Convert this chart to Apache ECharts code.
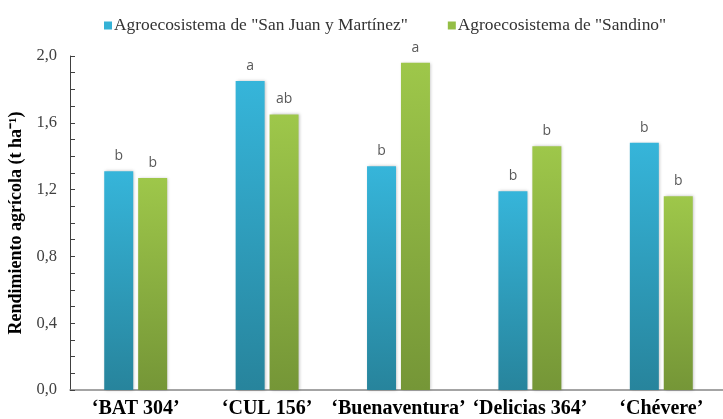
<!DOCTYPE html>
<html>
<head>
<meta charset="utf-8">
<script src="https://cdn.jsdelivr.net/npm/echarts@6/dist/echarts.min.js"></script>
<style>html,body{margin:0;padding:0;background:#fff}#c{width:723px;height:419px}</style>
</head>
<body>
<div id="c"></div>
<script>
var categories = ["‘BAT 304’", "‘CUL 156’", "‘Buenaventura’", "‘Delicias 364’", "‘Chévere’"];
var seriesNames = ['Agroecosistema de "San Juan y Martínez"', 'Agroecosistema de "Sandino"'];
var sanJuanValues = [1.31, 1.85, 1.34, 1.19, 1.48];
var sandinoValues = [1.27, 1.65, 1.96, 1.46, 1.16];
var sanJuanLetters = ["b", "a", "b", "b", "b"];
var sandinoLetters = ["b", "ab", "a", "b", "b"];
var yTicks = { min: 0, max: 2, interval: 0.4 };

function grad(top, bottom) {
  return new echarts.graphic.LinearGradient(0, 0, 0, 1, [
    { offset: 0, color: top }, { offset: 1, color: bottom }
  ]);
}
function mkSeries(name, values, letters, top, bottom, gap) {
  return {
    name: name,
    type: 'bar',
    barWidth: 29,
    barGap: gap,
    data: values.map(function (v, i) { return { value: v, letter: letters[i] }; }),
    itemStyle: {
      color: grad(top, bottom),
      shadowBlur: 3, shadowColor: 'rgba(0,0,0,0.25)', shadowOffsetX: 1, shadowOffsetY: 0
    },
    label: {
      show: true, position: 'top', distance: 8,
      fontFamily: 'Open Sans', fontSize: 14, color: '#595959',
      formatter: function (p) { return p.data.letter; }
    }
  };
}
var chart = echarts.init(document.getElementById('c'));
chart.setOption({
  animation: false,
  backgroundColor: '#fff',
  legend: {
    top: 12, left: 99,
    itemWidth: 8, itemHeight: 8, itemGap: 40,
    icon: 'rect',
    textStyle: { fontFamily: 'Liberation Serif', fontSize: 17.4, color: '#333', padding: [0, 0, 0, -3] },
    data: [
      { name: seriesNames[0], itemStyle: { color: '#35B2D6' } },
      { name: seriesNames[1], itemStyle: { color: '#94BE45' } }
    ]
  },
  grid: { left: 70, right: -4, top: 56, bottom: 29, containLabel: false, outerBoundsMode: 'none' },
  xAxis: {
    type: 'category',
    data: categories,
    axisLine: { lineStyle: { color: '#868686', width: 1.5 } },
    axisTick: { alignWithLabel: true, length: 4, lineStyle: { color: '#868686' } },
    axisLabel: { fontFamily: 'Liberation Serif', fontWeight: 'bold', fontSize: 20, color: '#000', margin: 9, interval: 0 }
  },
  yAxis: {
    type: 'value',
    min: yTicks.min, max: yTicks.max, interval: yTicks.interval,
    name: 'Rendimiento agrícola (t ha⁻¹)',
    nameLocation: 'middle', nameGap: 42, nameRotate: 90,
    nameTextStyle: { fontFamily: 'Liberation Serif', fontWeight: 'bold', fontSize: 18, color: '#000' },
    axisLine: { show: true, lineStyle: { color: '#404040' } },
    axisTick: { show: true, inside: true, length: 5, lineStyle: { color: '#404040' } },
    minorTick: { show: true, splitNumber: 4, length: 5, lineStyle: { color: '#404040' } },
    splitLine: { show: false },
    axisLabel: {
      fontFamily: 'Liberation Serif', fontSize: 16.5, color: '#404040', margin: 13,
      formatter: function (v) { return v.toFixed(1).replace('.', ','); }
    }
  },
  series: [
    mkSeries(seriesNames[0], sanJuanValues, sanJuanLetters, '#36B5DA', '#27849C', '17%'),
    mkSeries(seriesNames[1], sandinoValues, sandinoLetters, '#9EC74A', '#759637', '17%')
  ]
});
</script>
</body>
</html>
